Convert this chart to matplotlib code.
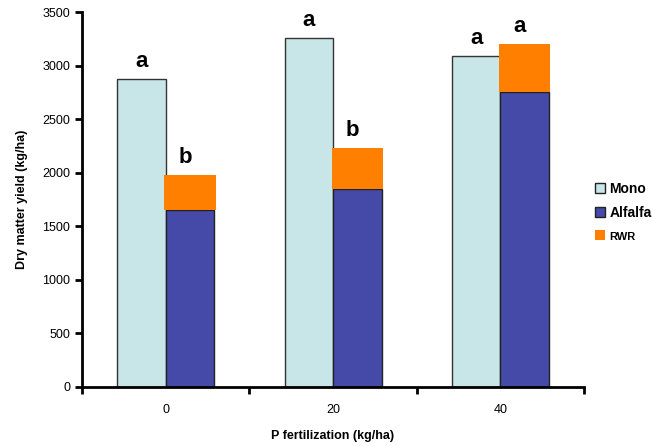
import numpy as np
import matplotlib.pyplot as plt
from matplotlib.lines import Line2D

plt.rcParams['font.family'] = ['Liberation Sans', 'DejaVu Sans']

# P fertilization levels and yields (kg/ha)
p_levels = ['0', '20', '40']
mono = [2875, 3260, 3090]
alfalfa = [1655, 1850, 2750]
rwr = [320, 380, 450]          # stacked on top of alfalfa
mono_letters = ['a', 'a', 'a']
mix_letters = ['b', 'b', 'a']

c_mono = '#C8E6E8'
c_alf = '#4549A8'
c_rwr = '#FF7F00'

fig = plt.figure(figsize=(6.52, 4.46), dpi=100)
ax = fig.add_axes([0.1258, 0.1323, 0.77, 0.8407])

x = np.arange(len(p_levels))
w = 0.29

ax.bar(x - w / 2, mono, w, color=c_mono, edgecolor='#333333', linewidth=1)
ax.bar(x + w / 2, alfalfa, w, color=c_alf, edgecolor='#222222', linewidth=1)
ax.bar(x + w / 2, rwr, w * 1.06, bottom=alfalfa, color=c_rwr, linewidth=0)

for i in range(len(x)):
    ax.text(x[i] - w / 2, mono[i] + 65, mono_letters[i], ha='center', va='bottom',
            fontsize=16, fontweight='bold')
    ax.text(x[i] + w / 2 - 0.03, alfalfa[i] + rwr[i] + 65, mix_letters[i], ha='center',
            va='bottom', fontsize=16, fontweight='bold')

ax.set_xlim(-0.5, 2.5)
ax.set_ylim(0, 3500)
ax.set_yticks(np.arange(0, 3501, 500))
ax.set_xticks(x)
ax.set_xticklabels(p_levels)
ax.set_xticks([-0.5, 0.5, 1.5, 2.5], minor=True)
ax.tick_params(axis='x', which='major', length=0, pad=12, labelsize=9)
ax.tick_params(axis='x', which='minor', length=5, width=2, direction='out')
ax.tick_params(axis='y', length=5, width=2, direction='out', labelsize=9)

for s in ['top', 'right']:
    ax.spines[s].set_visible(False)
for s in ['left', 'bottom']:
    ax.spines[s].set_linewidth(2)

ax.set_ylabel('Dry matter yield (kg/ha)', fontsize=9, fontweight='bold', labelpad=10)
ax.set_xlabel('P fertilization (kg/ha)', fontsize=9, fontweight='bold', labelpad=10)

handles = [
    Line2D([], [], ls='none', marker='s', markersize=7, markerfacecolor=c_mono,
           markeredgecolor='#222222', markeredgewidth=1),
    Line2D([], [], ls='none', marker='s', markersize=7, markerfacecolor=c_alf,
           markeredgecolor='#222222', markeredgewidth=1),
    Line2D([], [], ls='none', marker='s', markersize=7, markerfacecolor=c_rwr,
           markeredgewidth=0),
]
leg = fig.legend(handles, ['Mono', 'Alfalfa', 'RWR'], loc='center left',
                 bbox_to_anchor=(0.905, 0.525), frameon=False, handlelength=0.6,
                 handletextpad=0.4, labelspacing=0.75, borderaxespad=0)
for t, fs in zip(leg.get_texts(), [10, 10, 8]):
    t.set_fontweight('bold')
    t.set_fontsize(fs)

fig.savefig('out.png', dpi=100)
